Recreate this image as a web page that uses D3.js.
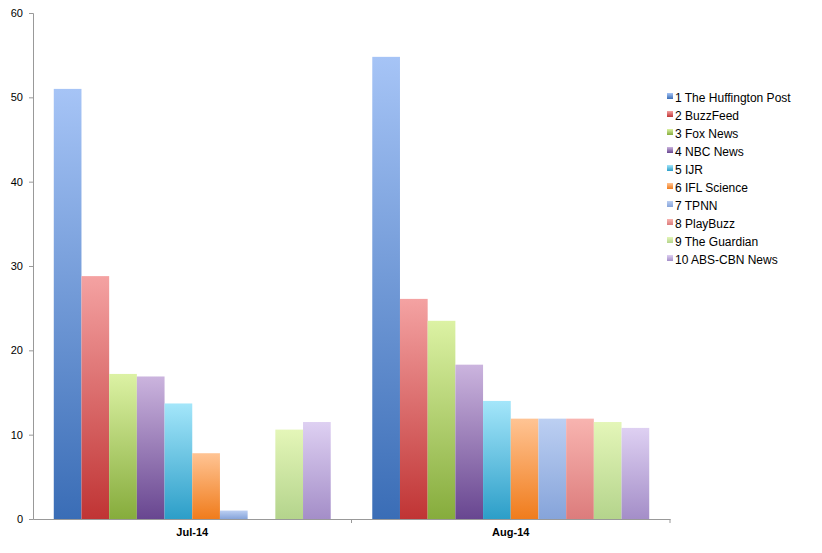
<!DOCTYPE html>
<html><head><meta charset="utf-8">
<script src="https://cdn.jsdelivr.net/npm/d3@7"></script>
<style>body{margin:0;background:#fff;font-family:"Liberation Sans",Arial,sans-serif}</style>
</head><body><div id="chart"></div>
<script>
var months = ["Jul-14", "Aug-14"];
var sites = ["1 The Huffington Post", "2 BuzzFeed", "3 Fox News", "4 NBC News", "5 IJR",
  "6 IFL Science", "7 TPNN", "8 PlayBuzz", "9 The Guardian", "10 ABS-CBN News"];
var jul = [51, 28.8, 17.2, 16.9, 13.7, 7.8, 1.0, 0, 10.6, 11.5];
var aug = [54.8, 26.1, 23.5, 18.3, 14.0, 11.9, 11.9, 11.9, 11.5, 10.8];
var yTicks = [0, 10, 20, 30, 40, 50, 60];
var topColors = ["#a6c4f6", "#f4a2a2", "#dcf2a4", "#cbb4de", "#a4e6fa", "#ffc494", "#bccff2", "#f8b4b0", "#e4f6b8", "#ded0f2"];
var botColors = ["#3a6db6", "#c03434", "#86ac3c", "#684690", "#2c9ec8", "#f07c1c", "#86a4da", "#dc7c7c", "#b4d48c", "#a48ec8"];

var svgWidth = 822, svgHeight = 553;
var margin = {top: 13, left: 33, right: 152, bottom: 34};
var height = svgHeight - margin.top - margin.bottom;
var width = svgWidth - margin.left - margin.right;

var svg = d3.select("#chart").append("svg").attr("width", svgWidth).attr("height", svgHeight);
var defs = svg.append("defs");
sites.forEach(function(s, i) {
  var g = defs.append("linearGradient").attr("id", "g" + i)
    .attr("x1", 0).attr("y1", 0).attr("x2", 0).attr("y2", 1);
  g.append("stop").attr("offset", "0%").attr("stop-color", topColors[i]);
  g.append("stop").attr("offset", "100%").attr("stop-color", botColors[i]);
});

var chartGroup = svg.append("g").attr("transform", `translate(${margin.left}, ${margin.top})`);

var y = d3.scaleLinear().domain([0, 60]).range([height, 0]);
var x0 = d3.scaleBand().domain(months).range([0, width]);
var x1 = d3.scaleBand().domain(sites).range([0, x0.bandwidth()]).paddingOuter(0.75);

// y axis
var yAxis = chartGroup.append("g").call(d3.axisLeft(y).tickValues(yTicks).tickSize(4).tickPadding(6));
yAxis.select(".domain").attr("stroke", "#999");
yAxis.selectAll("line").attr("stroke", "#999");
yAxis.selectAll("text").attr("font-size", 11).attr("fill", "#000");

// bars
var data = [jul, aug];
months.forEach(function(m, mi) {
  chartGroup.append("g").attr("transform", `translate(${x0(m)},0)`)
    .selectAll("rect").data(data[mi]).enter().append("rect")
    .attr("x", (d, i) => x1(sites[i]))
    .attr("width", x1.bandwidth())
    .attr("y", d => y(d))
    .attr("height", d => height - y(d))
    .attr("fill", (d, i) => `url(#g${i})`);
});

// x axis
var xAxis = chartGroup.append("g").attr("transform", `translate(0, ${height})`)
  .call(d3.axisBottom(x0).tickSize(0).tickPadding(9));
xAxis.select(".domain").attr("stroke", "#999");
xAxis.selectAll("text").attr("font-size", 11).attr("font-weight", "bold").attr("fill", "#000");
xAxis.append("line").attr("x1", x0.bandwidth()).attr("x2", x0.bandwidth())
  .attr("y1", 0).attr("y2", 4).attr("stroke", "#999");
xAxis.append("line").attr("x1", width).attr("x2", width)
  .attr("y1", 0).attr("y2", 4).attr("stroke", "#999");

// legend
var legend = svg.append("g").attr("transform", "translate(667, 98)");
sites.forEach(function(s, i) {
  var row = legend.append("g").attr("transform", `translate(0, ${i * 18})`);
  row.append("rect").attr("x", 0).attr("y", -5).attr("width", 6).attr("height", 6)
    .attr("fill", `url(#g${i})`);
  row.append("text").attr("x", 8).attr("y", 0).attr("dy", "0.35em")
    .attr("font-size", 12).text(s);
});
</script></body></html>
